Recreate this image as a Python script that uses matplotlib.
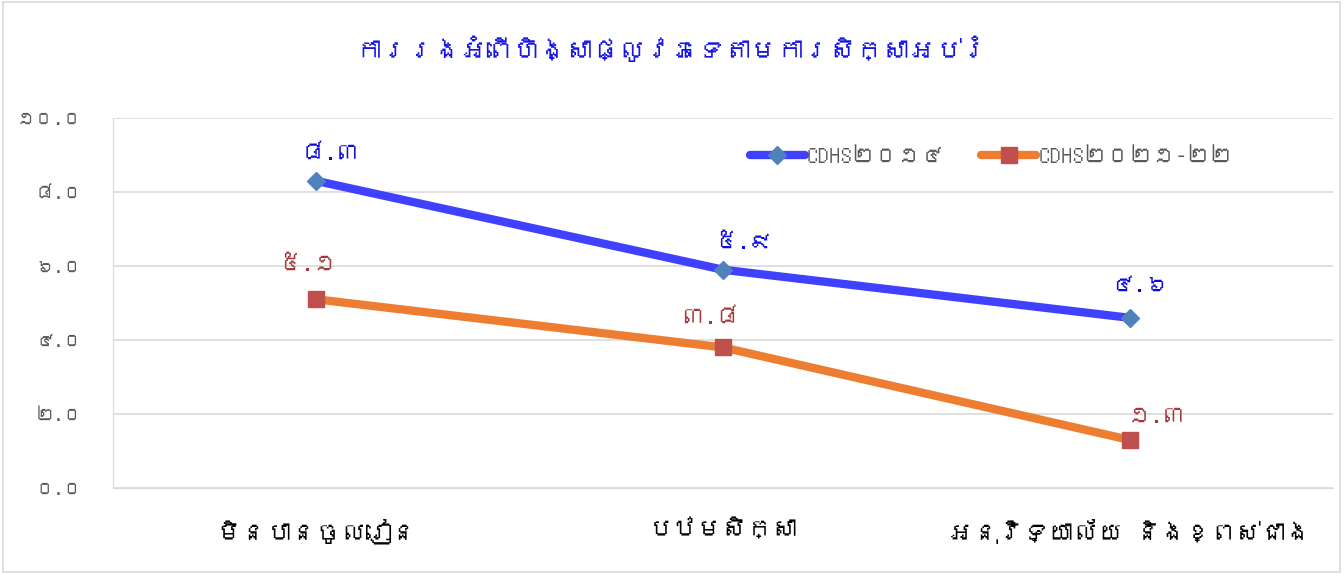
import matplotlib
matplotlib.use("Agg")
import matplotlib.pyplot as plt
from matplotlib import font_manager
from matplotlib.ft2font import FT2Font

categories = ["មិនបានចូលរៀន", "បឋមសិក្សា", "អនុវិទ្យាល័យ និងខ្ពស់ជាង"]
series_names = ["CDHS២០១៤", "CDHS២០២១-២២"]
cdhs_2014 = [8.3, 5.9, 4.6]
cdhs_2021 = [5.1, 3.8, 1.3]
labels_2014 = ["៨.៣", "៥.៩", "៤.៦"]
labels_2021 = ["៥.១", "៣.៨", "១.៣"]
y_ticks = [0, 2, 4, 6, 8, 10]
y_tick_labels = ["០.០", "២.០", "៤.០", "៦.០", "៨.០", "១០.០"]
title = "ការរងអំពើហិង្សាផ្លូវភេទតាមការសិក្សាអប់រំ"

# find a font with Khmer glyphs if any
khmer_family = None
for f in font_manager.fontManager.ttflist:
    try:
        ft = FT2Font(f.fname)
        if 0x1780 in ft.get_charmap():
            khmer_family = f.name
            break
    except Exception:
        pass
fams = ([khmer_family] if khmer_family else []) + ["DejaVu Sans"]
plt.rcParams['font.family'] = fams

fig = plt.figure(figsize=(13.43, 5.74), dpi=100)
ax = fig.add_axes([0.0841, 0.1498, 0.9085, 0.6446])

x = list(range(len(categories)))
ax.plot(x, cdhs_2014, color="#4040FF", lw=6, marker="D", ms=9,
        mfc="#4F81BD", mec="#4F81BD", label=series_names[0], solid_capstyle="round", zorder=3)
ax.plot(x, cdhs_2021, color="#ED7D31", lw=6, marker="s", ms=12,
        mfc="#C0504D", mec="#C0504D", label=series_names[1], solid_capstyle="round", zorder=3)

off_2014 = [(11, 20), (15, 20), (7, 23)]
off_2021 = [(-6, 25), (-9, 22), (20, 17)]
for xi, v, t, o in zip(x, cdhs_2014, labels_2014, off_2014):
    ax.annotate(t, (xi, v), xytext=o, textcoords="offset points", ha="center",
                va="center", fontsize=17, color="#0A0ADC")
for xi, v, t, o in zip(x, cdhs_2021, labels_2021, off_2021):
    ax.annotate(t, (xi, v), xytext=o, textcoords="offset points", ha="center",
                va="center", fontsize=17, color="#A5383A")

ax.set_xlim(-0.5, 2.5)
ax.set_ylim(0, 10)
ax.set_yticks(y_ticks)
ax.set_yticklabels(y_tick_labels, fontsize=13.5, color="#595959")
ax.set_xticks(x)
ax.set_xticklabels(categories, fontsize=18, color="black", fontweight="bold")
ax.tick_params(axis="both", length=0)
ax.tick_params(axis="y", pad=22)
ax.tick_params(axis="x", pad=22)
ax.grid(axis="y", color="#D9D9D9", lw=1.2)
ax.set_axisbelow(True)
for s in ["top", "right"]:
    ax.spines[s].set_visible(False)
ax.spines["left"].set_color("#D9D9D9")
ax.spines["bottom"].set_color("#D9D9D9")

ax.legend(loc="center", bbox_to_anchor=(0.72, 0.895), ncol=2, frameon=False,
          fontsize=16.5, labelcolor="#595959", handlelength=2.4, columnspacing=1.6,
          handletextpad=0.1)

fig.text(0.5, 0.915, title, ha="center", va="center", fontsize=19,
         color="#1414E6", fontweight="bold")

# outer chart border
fig.patches.append(plt.Rectangle((0.002, 0.003), 0.996, 0.994, transform=fig.transFigure,
                                 fill=False, edgecolor="#D9D9D9", lw=1.2))

fig.savefig("out.png", dpi=100)
